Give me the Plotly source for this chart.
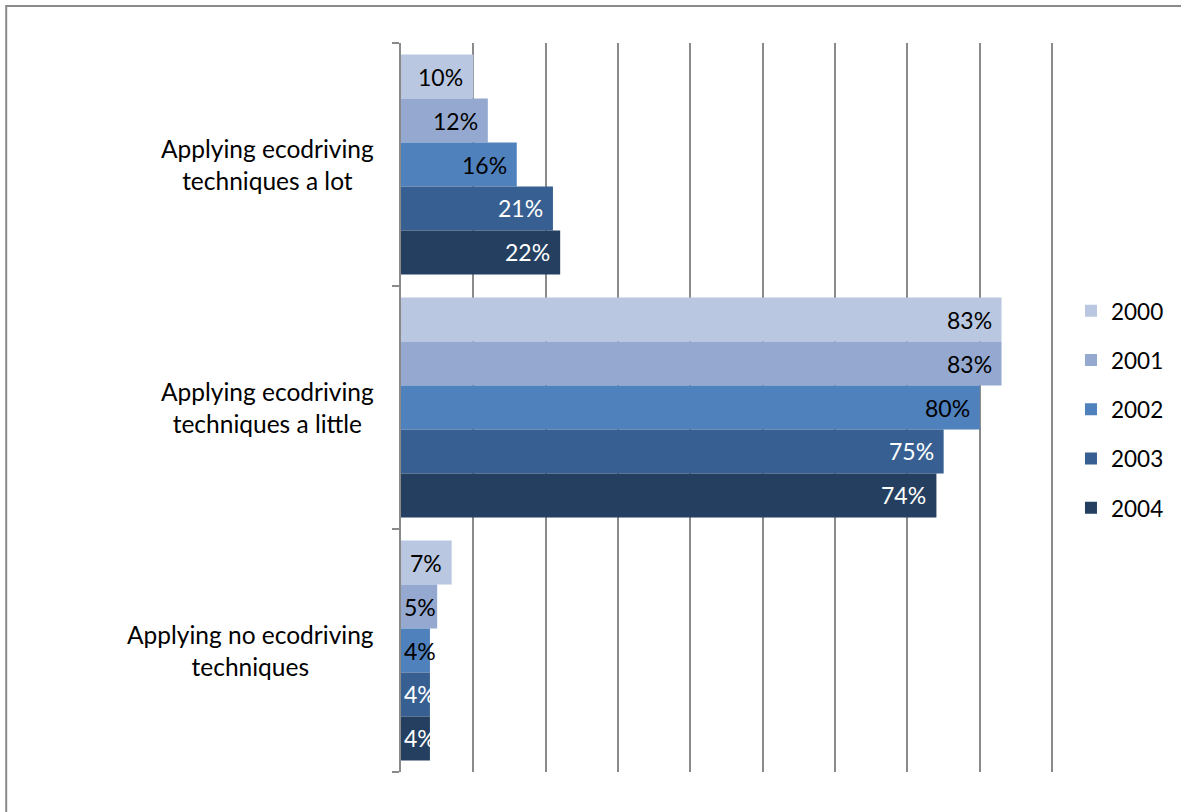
import plotly.graph_objects as go

categories = ["Applying ecodriving<br>techniques a lot",
              "Applying ecodriving<br>techniques a little",
              "Applying no ecodriving<br>techniques"]
years = ["2000", "2001", "2002", "2003", "2004"]
values = {
    "2000": [0.10, 0.83, 0.07],
    "2001": [0.12, 0.83, 0.05],
    "2002": [0.16, 0.80, 0.04],
    "2003": [0.21, 0.75, 0.04],
    "2004": [0.22, 0.74, 0.04],
}
colors = ["#BAC7E1", "#95A9D0", "#4F81BD", "#385F91", "#253F61"]
label_colors = ["#000000", "#000000", "#000000", "#FFFFFF", "#FFFFFF"]

FONT = "Lato"
BARGAP = 0.095
n = len(years)

fig = go.Figure()
cat_idx = list(range(len(categories)))
for i, yr in enumerate(years):
    fig.add_trace(go.Bar(
        y=cat_idx, x=values[yr], orientation="h", name=yr,
        marker=dict(color=colors[i], line=dict(width=0)),
        legendgroup=yr,
        hoverinfo="x+name",
    ))

annotations = []
# value labels
bw = (1 - BARGAP) / n
for i, yr in enumerate(years):
    for j, v in enumerate(values[yr]):
        ypos = j + (i - (n - 1) / 2) * bw
        if v >= 0.07:
            annotations.append(dict(x=v, y=ypos, xref="x", yref="y", text=f"{round(v*100)}%",
                                    xanchor="right", yanchor="middle", xshift=-8, showarrow=False,
                                    font=dict(family=FONT, size=23, color=label_colors[i])))
        else:
            annotations.append(dict(x=0, y=ypos, xref="x", yref="y", text=f"{round(v*100)}%",
                                    xanchor="left", yanchor="middle", xshift=1, showarrow=False,
                                    font=dict(family=FONT, size=23, color=label_colors[i])))
# category labels
for j, c in enumerate(categories):
    annotations.append(dict(x=-0.038, y=j, xref="paper", yref="y", text=c, align="center",
                            xanchor="right", yanchor="middle", showarrow=False,
                            font=dict(family=FONT, size=24.5, color="#000000")))

fig.update_layout(
    width=1181, height=812,
    margin=dict(l=401, r=125, t=43, b=40),
    paper_bgcolor="white", plot_bgcolor="white",
    barmode="group", bargap=BARGAP, bargroupgap=0,
    font=dict(family=FONT, size=22, color="#000000"),
    xaxis=dict(range=[0, 0.9025], dtick=0.1, showgrid=True, gridcolor="#8A8A8A", gridwidth=1.5,
               showticklabels=False, ticks="", zeroline=False, showline=False, fixedrange=True),
    yaxis=dict(range=[2.5, -0.5], showticklabels=False, showgrid=False, zeroline=False,
               showline=True, linecolor="#8A8A8A", linewidth=1.5,
               tickmode="array", tickvals=[-0.5, 0.5, 1.5, 2.5], ticks="outside", ticklen=7,
               tickcolor="#8A8A8A", tickwidth=1.5, fixedrange=True),
    legend=dict(x=1.026, y=0.497, xanchor="left", yanchor="middle", tracegroupgap=17,
                font=dict(family=FONT, size=22.5, color="#000000"), bgcolor="rgba(0,0,0,0)"),
    annotations=annotations,
    shapes=[dict(type="rect", xref="paper", yref="paper",
                 x0=(5 - 401) / 655, x1=(1200 - 401) / 655,
                 y0=(772 - 830) / 729, y1=(772 - 6) / 729,
                 line=dict(color="#8A8A8A", width=2), fillcolor="rgba(0,0,0,0)", layer="below")],
    showlegend=True,
)

fig.write_html("out.html")
